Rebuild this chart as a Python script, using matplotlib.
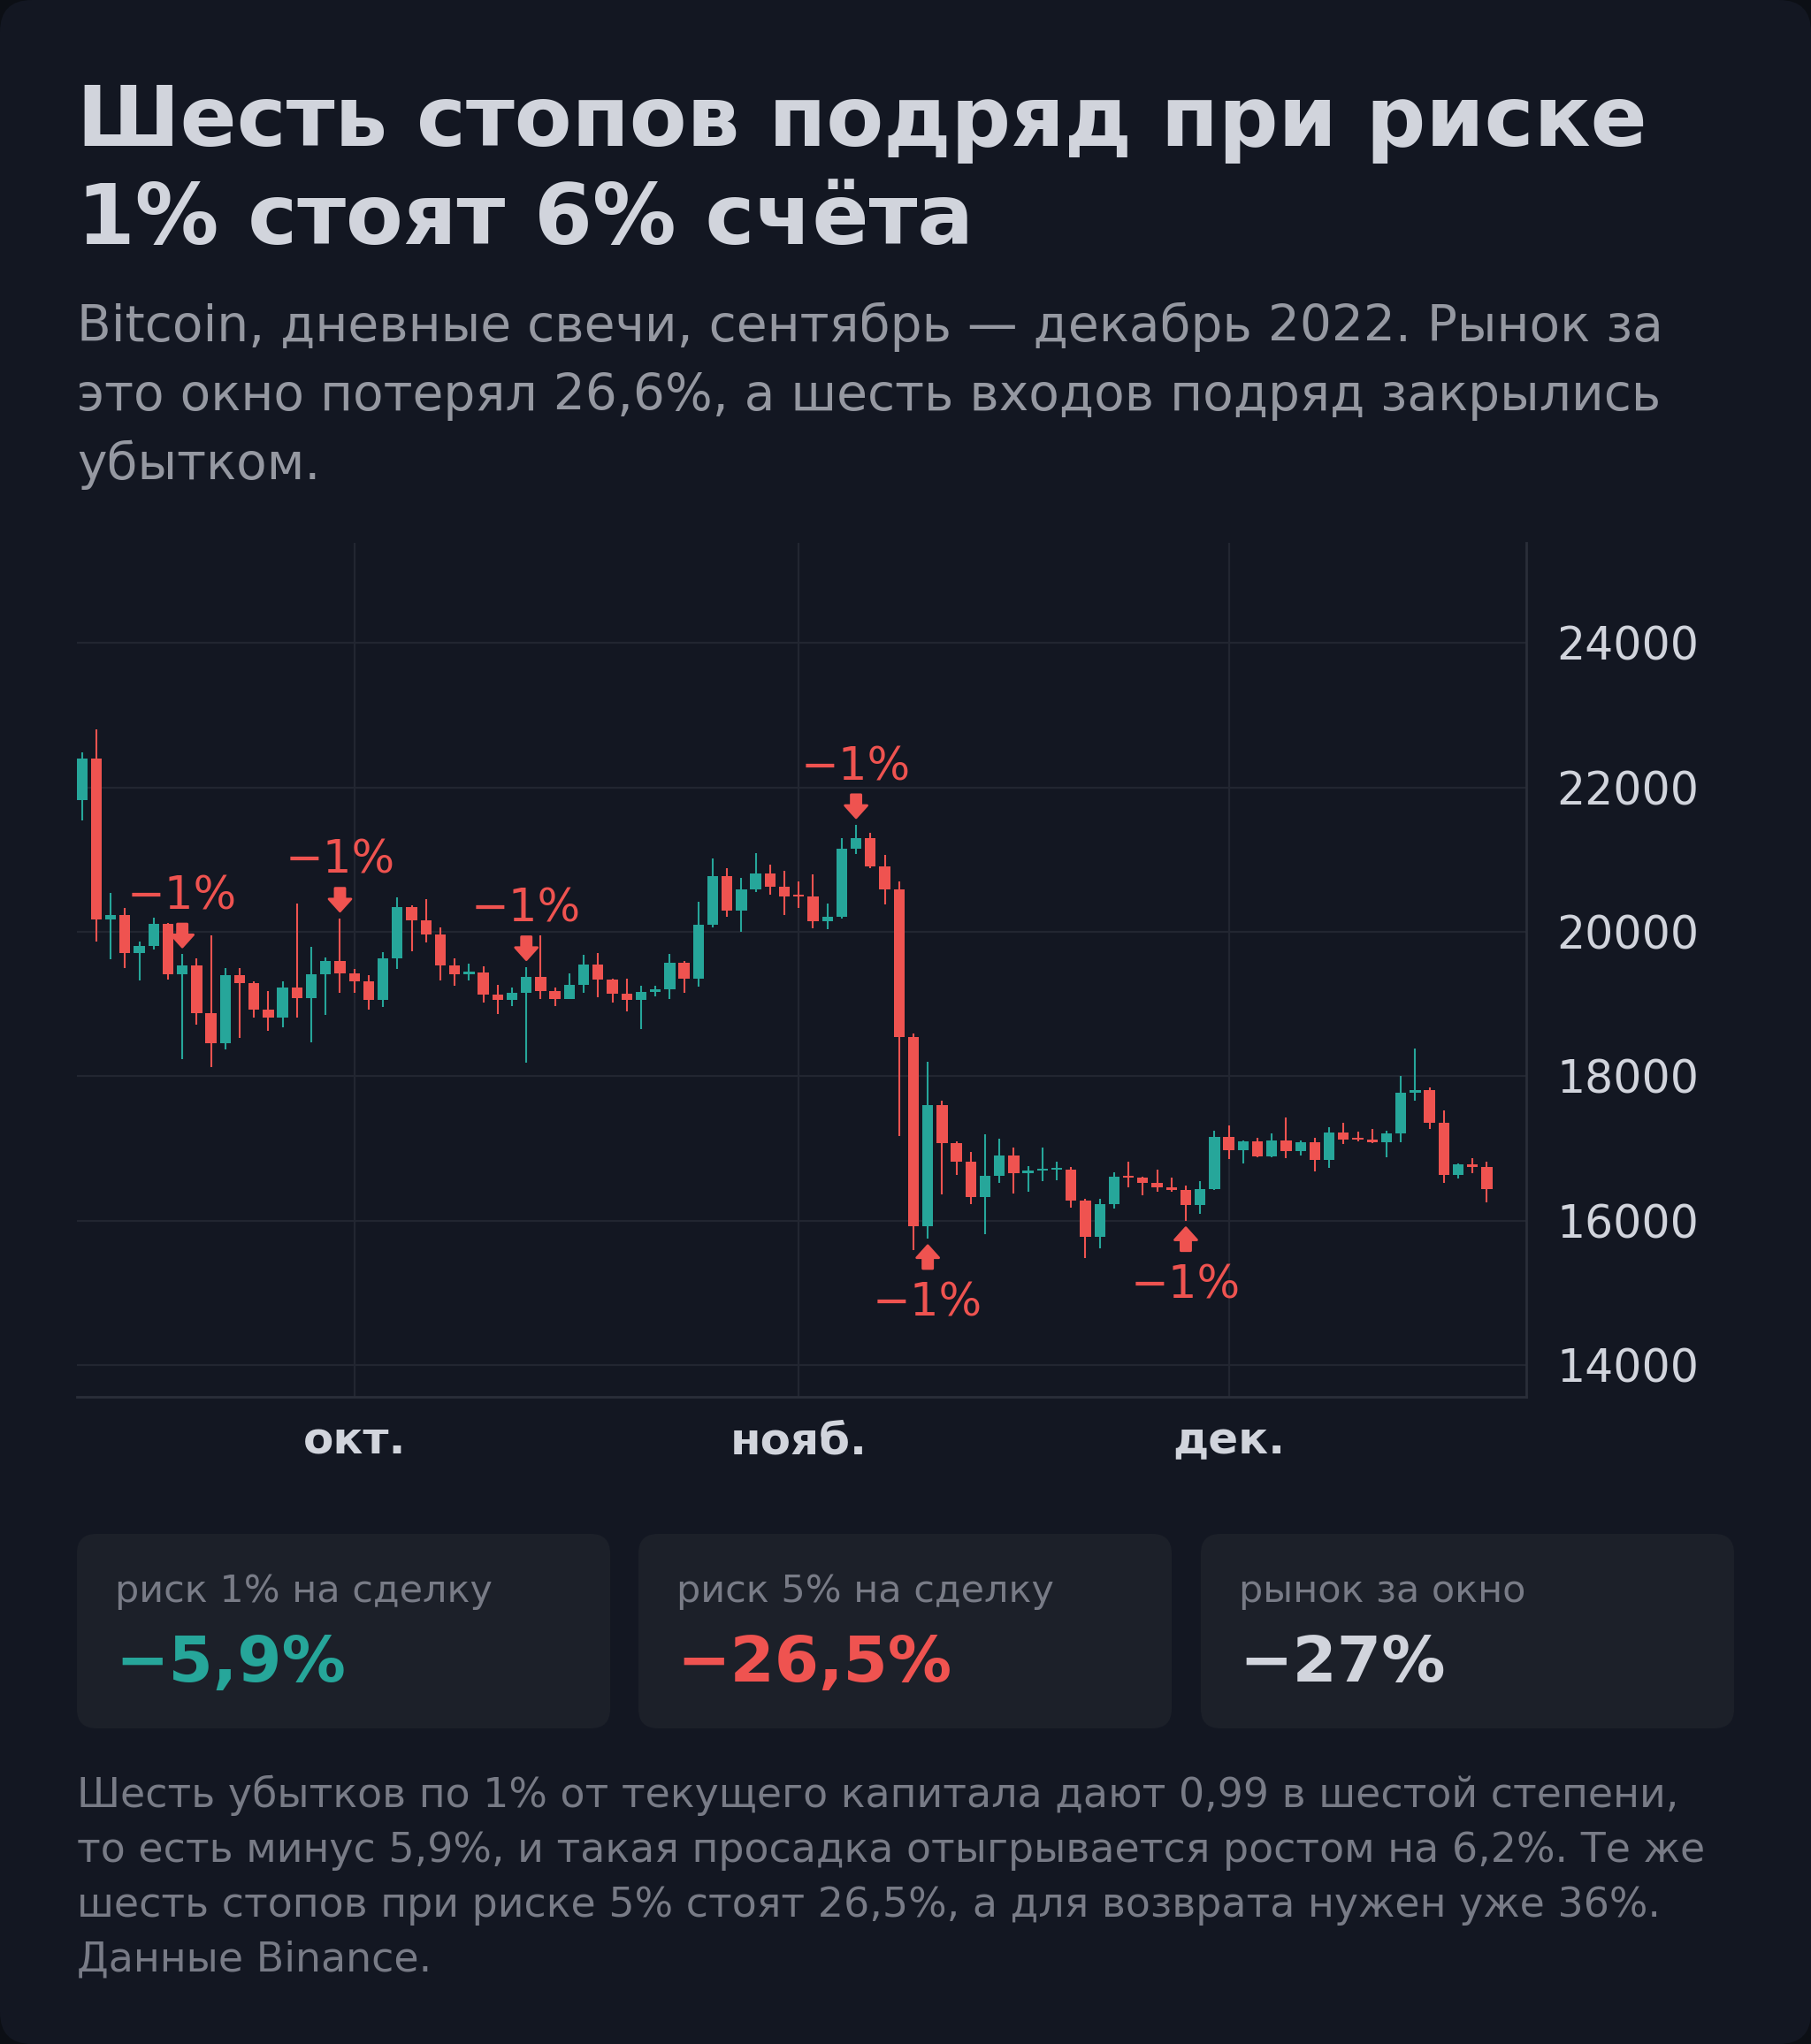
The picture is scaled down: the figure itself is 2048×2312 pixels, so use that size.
import matplotlib.pyplot as plt
import matplotlib.dates as mdates
from matplotlib.patches import FancyBboxPatch
import numpy as np
import pandas as pd

# BTCUSDT daily candles, 12 Sep - 19 Dec 2022
start = '2022-09-12'
opens = [21826, 22395, 20173, 20227, 19701, 19803, 20113, 19417, 19537, 18875,
         18461, 19401, 19289, 18920, 18807, 19227, 19080, 19413, 19592,
         19423, 19311, 19056, 19629, 20337, 20158, 19960, 19530, 19417, 19440,
         19131, 19060, 19155, 19375, 19176, 19069, 19262, 19550, 19334, 19139,
         19053, 19172, 19208, 19567, 19345, 20095, 20772, 20295, 20591, 20810, 20627,
         20490, 20483, 20151, 20207, 21148, 21299, 20905, 20591, 18548, 15922,
         17602, 17070, 16813, 16330, 16620, 16900, 16662, 16692, 16700, 16700,
         16280, 15781, 16226, 16603, 16599, 16522, 16458, 16428, 16212, 16442,
         17165, 16977, 17092, 16885, 17105, 16967, 17088, 16836, 17224, 17128,
         17127, 17085, 17209, 17775, 17804, 17357, 16633, 16779, 16738]
highs = [22488, 22799, 20541, 20330, 19861, 20189, 20117, 19690, 19635, 19956,
         19500, 19496, 19316, 19180, 19310, 20385, 19790, 19645, 20185,
         19484, 19395, 19719, 20475, 20365, 20456, 20059, 19627, 19558, 19527,
         19268, 19224, 19513, 19952, 19229, 19422, 19686, 19705, 19351, 19346,
         19250, 19250, 19695, 19601, 20415, 21020, 20876, 20750, 21085, 20931, 20845,
         20700, 20800, 20393, 21302, 21480, 21365, 21069, 20700, 18587, 18199,
         17656, 17099, 16954, 17190, 17134, 17015, 16751, 17011, 16820, 16746,
         16305, 16300, 16674, 16812, 16605, 16701, 16600, 16483, 16548, 17250,
         17320, 17105, 17150, 17202, 17424, 17107, 17142, 17299, 17360, 17227,
         17270, 17241, 18000, 18387, 17847, 17528, 16796, 16863, 16815]
lows = [21538, 19860, 19617, 19497, 19320, 19748, 19336, 18232, 18711, 18125,
        18374, 18531, 18817, 18629, 18680, 18816, 18471, 18843, 19156,
        19160, 18920, 18959, 19490, 19731, 19853, 19320, 19255, 19320, 19022,
        18860, 18965, 18190, 19070, 18975, 19063, 19157, 19096, 19016, 18900,
        18650, 19100, 19070, 19157, 19243, 20063, 20202, 20000, 20554, 20515, 20237,
        20330, 20048, 20032, 20180, 21080, 20880, 20384, 17166, 15588, 15754,
        16361, 16631, 16229, 15815, 16527, 16378, 16401, 16546, 16560, 16180,
        15476, 15616, 16167, 16459, 16349, 16400, 16400, 16001, 16100, 16428,
        16855, 16790, 16878, 16878, 16867, 16906, 16678, 16733, 17058, 17092,
        17071, 16872, 17087, 17660, 17275, 16527, 16586, 16659, 16256]
closes = [22395, 20173, 20226, 19701, 19803, 20113, 19416, 19537, 18875, 18461,
          19401, 19289, 18920, 18807, 19227, 19080, 19413, 19592, 19423,
          19311, 19056, 19629, 20337, 20158, 19960, 19530, 19417, 19440, 19131,
          19060, 19155, 19375, 19176, 19069, 19262, 19550, 19334, 19139, 19053,
          19172, 19208, 19567, 19345, 20095, 20772, 20295, 20591, 20810, 20627, 20491,
          20483, 20151, 20207, 21148, 21299, 20905, 20591, 18547, 15922, 17601,
          17070, 16813, 16330, 16620, 16900, 16662, 16692, 16700, 16700, 16280,
          15781, 16226, 16603, 16599, 16522, 16458, 16428, 16212, 16442, 17163,
          16977, 17092, 16885, 17105, 16967, 17088, 16836, 17224, 17128, 17127,
          17085, 17209, 17775, 17804, 17357, 16633, 16779, 16738, 16439]

# six losing entries in a row
stop_dates = ['2022-09-19', '2022-09-30', '2022-10-13', '2022-11-05', '2022-11-10', '2022-11-28']
stop_sides = ['above', 'above', 'above', 'above', 'below', 'below']
stop_text = '\u22121%'

month_dates = ['2022-10-01', '2022-11-01', '2022-12-01']
month_labels = ['окт.', 'нояб.', 'дек.']
price_ticks = [14000, 16000, 18000, 20000, 22000, 24000]

title_lines = ['Шесть стопов подряд при риске', '1% стоят 6% счёта']
subtitle_lines = ['Bitcoin, дневные свечи, сентябрь — декабрь 2022. Рынок за',
                  'это окно потерял 26,6%, а шесть входов подряд закрылись',
                  'убытком.']
card_titles = ['риск 1% на сделку', 'риск 5% на сделку', 'рынок за окно']
card_values = ['\u22125,9%', '\u221226,5%', '\u221227%']
note_lines = ['Шесть убытков по 1% от текущего капитала дают 0,99 в шестой степени,',
              'то есть минус 5,9%, и такая просадка отыгрывается ростом на 6,2%. Те же',
              'шесть стопов при риске 5% стоят 26,5%, а для возврата нужен уже 36%.',
              'Данные Binance.']

BG = '#131722'
OUTER = '#0c0f15'
UP = '#26a69a'
DOWN = '#ef5350'
TXT = '#d1d4dc'
MUTED = '#9598a1'
DIM = '#787b86'
GRID = '#222631'
PANEL = '#1c2029'
card_colors = [UP, DOWN, TXT]

plt.rcParams['font.family'] = ['DejaVu Sans']

W, H = 2048, 2312
fig = plt.figure(figsize=(W / 200, H / 200), dpi=200)
fig.patch.set_facecolor(OUTER)

# pixel canvas for background, texts and cards
bg = fig.add_axes([0, 0, 1, 1], zorder=0)
bg.set_xlim(0, W)
bg.set_ylim(H, 0)
bg.axis('off')
bg.add_patch(FancyBboxPatch((0, 0), W, H, boxstyle='round,pad=0,rounding_size=36',
                            facecolor=BG, edgecolor='none'))

for i, line in enumerate(title_lines):
    bg.text(87, 165 + i * 111, line, fontsize=34, fontweight='bold', color=TXT, va='baseline')
for i, line in enumerate(subtitle_lines):
    bg.text(87, 386 + i * 78, line, fontsize=20.4, color=MUTED, va='baseline')

card_x = [87, 722, 1358]
card_w = 603
for x, t, v, c in zip(card_x, card_titles, card_values, card_colors):
    bg.add_patch(FancyBboxPatch((x, 1735), card_w, 220, boxstyle='round,pad=0,rounding_size=22',
                                facecolor=PANEL, edgecolor='none'))
    bg.text(x + 43, 1812, t, fontsize=15.5, color=DIM, va='baseline')
    bg.text(x + 43, 1902, v, fontsize=26, fontweight='bold', color=c, va='baseline')

for i, line in enumerate(note_lines):
    bg.text(87, 2044 + i * 62, line, fontsize=16.5, color=DIM, va='baseline')

# candlestick chart
ax = fig.add_axes([87 / W, 1 - 1580 / H, (1726 - 87) / W, (1580 - 614) / H], zorder=1)
ax.set_facecolor('none')

dates = pd.date_range(start, periods=len(opens), freq='D')
x = mdates.date2num(dates)
o = np.array(opens, dtype=float)
h = np.array(highs, dtype=float)
l = np.array(lows, dtype=float)
c = np.array(closes, dtype=float)
colors = np.where(c >= o, UP, DOWN)

ax.vlines(x, l, h, colors=colors, linewidth=0.75, zorder=3)
body_low = np.minimum(o, c)
body_h = np.maximum(np.abs(c - o), 25)
ax.bar(x, body_h, bottom=body_low, width=0.76, color=colors, zorder=4)

for d, side in zip(stop_dates, stop_sides):
    xd = mdates.date2num(pd.Timestamp(d))
    i = int(round(xd - x[0]))
    sgn = 1 if side == 'above' else -1
    yv = h[i] if side == 'above' else l[i]
    ax.annotate('', xy=(xd, yv), xytext=(0, sgn * 12.3), textcoords='offset points',
                arrowprops=dict(arrowstyle='simple,head_length=0.5,head_width=0.9,tail_width=0.4',
                                color=DOWN, shrinkA=0, shrinkB=2.9, mutation_scale=10),
                zorder=5)
    ax.annotate(stop_text, xy=(xd, yv), xytext=(0, 18.3 if side == 'above' else -17.5),
                textcoords='offset points', ha='center',
                va='baseline' if side == 'above' else 'top',
                fontsize=18.4, color=DOWN, zorder=5)

ax.set_xlim(x[0] - 0.35, x[0] + 100.75)
ax.set_ylim(13560, 25385)
ax.set_xticks(mdates.date2num(pd.to_datetime(month_dates)))
ax.set_xticklabels(month_labels, fontsize=18, fontweight='bold', color=TXT)
ax.set_yticks(price_ticks)
ax.set_yticklabels([str(p) for p in price_ticks], fontsize=18.2, color=TXT)
ax.yaxis.tick_right()
ax.tick_params(axis='both', length=0)
ax.tick_params(axis='y', pad=12.5)
ax.tick_params(axis='x', pad=9.5)
ax.grid(True, color=GRID, linewidth=0.8)
ax.set_axisbelow(True)
for side in ['left', 'top']:
    ax.spines[side].set_visible(False)
for side in ['right', 'bottom']:
    ax.spines[side].set_color('#2a2e39')
    ax.spines[side].set_linewidth(1.0)

fig.savefig('out.png', dpi=200, facecolor=fig.get_facecolor())
